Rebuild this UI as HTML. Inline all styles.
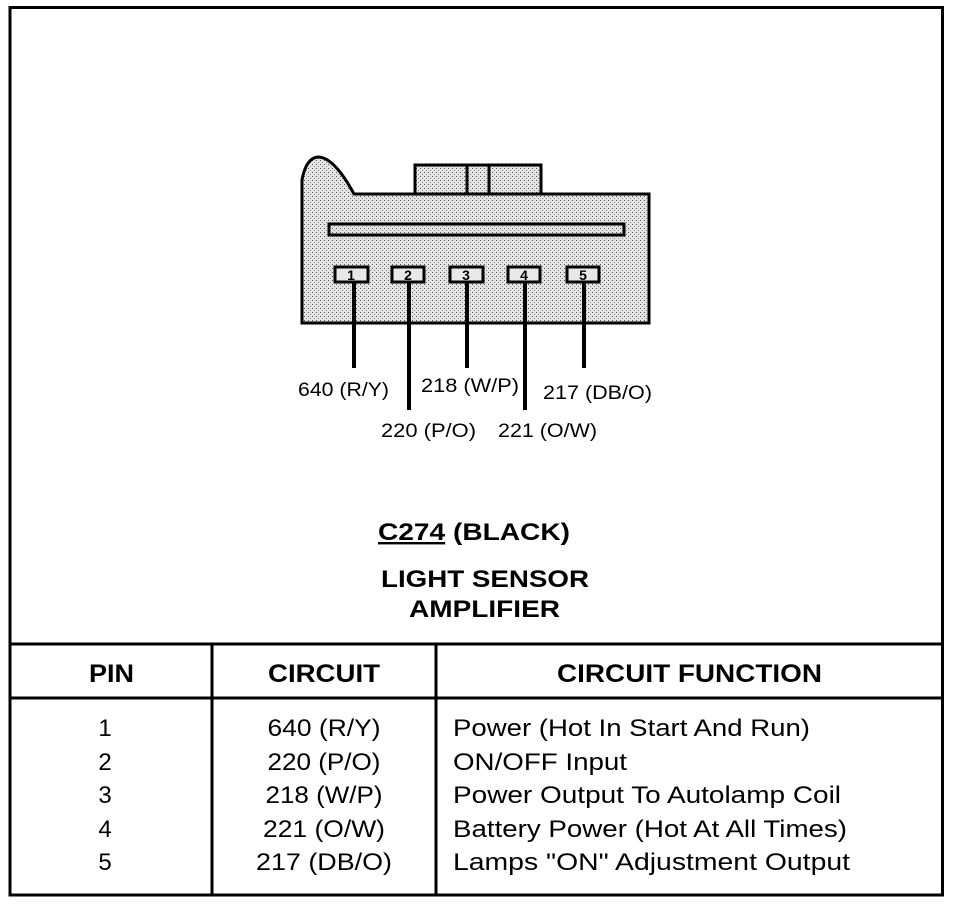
<!DOCTYPE html>
<html><head><meta charset="utf-8"><style>
html,body{margin:0;padding:0;background:#fff;}
svg{display:block;}
text{font-family:"Liberation Sans",Arial,sans-serif;fill:#000;}
</style></head><body>
<svg width="960" height="906" viewBox="0 0 960 906" xmlns="http://www.w3.org/2000/svg">
<defs>
<pattern id="dots" width="4" height="4" patternUnits="userSpaceOnUse">
<rect width="4" height="4" fill="#e4e4e4"/>
<rect x="0" y="0" width="1" height="1" fill="#555"/>
<rect x="2" y="2" width="1" height="1" fill="#888"/>
</pattern>
</defs>
<rect x="10" y="7.5" width="932.5" height="887.5" fill="none" stroke="#000" stroke-width="3"/>
<path d="M302,323 L302,180 Q306,158 318,157 Q334,157 354,194 L649,194 L649,323 Z" fill="url(#dots)" stroke="#000" stroke-width="3"/>
<rect x="415" y="165" width="126" height="29" fill="url(#dots)" stroke="#000" stroke-width="3"/>
<line x1="467" y1="165" x2="467" y2="194" stroke="#000" stroke-width="3"/>
<line x1="489" y1="165" x2="489" y2="194" stroke="#000" stroke-width="3"/>
<rect x="329" y="224" width="295" height="11" fill="url(#dots)" stroke="#000" stroke-width="3"/>
<g stroke="#000" stroke-width="3" fill="#e8e8e8">
<rect x="335" y="267" width="33" height="15"/>
<rect x="392" y="267" width="32" height="15"/>
<rect x="450" y="267" width="33" height="15"/>
<rect x="508" y="267" width="32" height="15"/>
<rect x="567" y="267" width="32" height="15"/>
</g>
<g font-size="14" font-weight="bold" text-anchor="middle">
<text x="351" y="280">1</text><text x="408" y="280">2</text><text x="466" y="280">3</text><text x="524" y="280">4</text><text x="583" y="280">5</text>
</g>
<g stroke="#000" stroke-width="4">
<line x1="354" y1="282" x2="354" y2="368"/>
<line x1="409" y1="282" x2="409" y2="410"/>
<line x1="467" y1="282" x2="467" y2="368"/>
<line x1="525" y1="282" x2="525" y2="410"/>
<line x1="584" y1="282" x2="584" y2="368"/>
</g>
<g font-size="19" lengthAdjust="spacingAndGlyphs">
<text x="298" y="396" textLength="91" lengthAdjust="spacingAndGlyphs">640 (R/Y)</text>
<text x="421" y="392" textLength="98" lengthAdjust="spacingAndGlyphs">218 (W/P)</text>
<text x="543" y="399" textLength="109" lengthAdjust="spacingAndGlyphs">217 (DB/O)</text>
<text x="381" y="437" textLength="95" lengthAdjust="spacingAndGlyphs">220 (P/O)</text>
<text x="498" y="437" textLength="99" lengthAdjust="spacingAndGlyphs">221 (O/W)</text>
</g>
<g font-size="24" font-weight="bold">
<text x="378" y="540" textLength="192" lengthAdjust="spacingAndGlyphs"><tspan text-decoration="underline">C274</tspan> (BLACK)</text>
<text x="381" y="587" textLength="208" lengthAdjust="spacingAndGlyphs">LIGHT SENSOR</text>
<text x="409" y="617" textLength="151" lengthAdjust="spacingAndGlyphs">AMPLIFIER</text>
</g>
<g stroke="#000" stroke-width="3">
<line x1="10" y1="644" x2="942" y2="644"/>
<line x1="10" y1="698" x2="942" y2="698"/>
<line x1="212" y1="644" x2="212" y2="895"/>
<line x1="436" y1="644" x2="436" y2="895"/>
</g>
<g font-size="25" font-weight="bold">
<text x="89" y="682" textLength="45" lengthAdjust="spacingAndGlyphs">PIN</text>
<text x="268" y="682" textLength="112" lengthAdjust="spacingAndGlyphs">CIRCUIT</text>
<text x="557" y="682" textLength="265" lengthAdjust="spacingAndGlyphs">CIRCUIT FUNCTION</text>
</g>
<g font-size="24" text-anchor="middle">
<text x="105" y="736">1</text><text x="105" y="770">2</text><text x="105" y="803">3</text><text x="105" y="837">4</text><text x="105" y="870">5</text>
<text x="324" y="736" textLength="113" lengthAdjust="spacingAndGlyphs">640 (R/Y)</text>
<text x="324" y="770" textLength="113" lengthAdjust="spacingAndGlyphs">220 (P/O)</text>
<text x="324" y="803" textLength="117" lengthAdjust="spacingAndGlyphs">218 (W/P)</text>
<text x="324" y="837" textLength="122" lengthAdjust="spacingAndGlyphs">221 (O/W)</text>
<text x="324" y="870" textLength="136" lengthAdjust="spacingAndGlyphs">217 (DB/O)</text>
</g>
<g font-size="24">
<text x="453" y="736" textLength="357" lengthAdjust="spacingAndGlyphs">Power (Hot In Start And Run)</text>
<text x="453" y="770" textLength="174" lengthAdjust="spacingAndGlyphs">ON/OFF Input</text>
<text x="453" y="803" textLength="388" lengthAdjust="spacingAndGlyphs">Power Output To Autolamp Coil</text>
<text x="453" y="837" textLength="394" lengthAdjust="spacingAndGlyphs">Battery Power (Hot At All Times)</text>
<text x="453" y="870" textLength="397" lengthAdjust="spacingAndGlyphs">Lamps "ON" Adjustment Output</text>
</g>
</svg>
</body></html>
